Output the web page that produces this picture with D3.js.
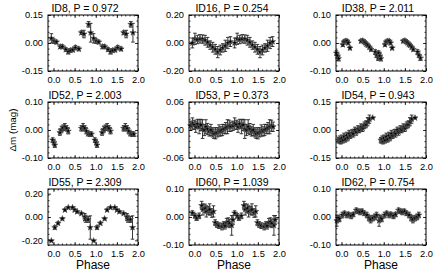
<!DOCTYPE html>
<html>
<head>
<meta charset="utf-8">
<script src="https://cdn.jsdelivr.net/npm/d3@7"></script>
<style>
  body { margin: 0; background: #fff; }
  svg { display: block; }
</style>
</head>
<body>
<div id="chart"></div>
<script>
// phase-folded light curves, first cycle only (plotted again at phase + 1)
const id8Phase = [-0.05, 0.01, 0.07, 0.16, 0.21, 0.29, 0.35, 0.40, 0.46, 0.52, 0.60, 0.66, 0.72, 0.83, 0.88];
const id8Mag   = [0.025, 0.01, 0.005, -0.02, -0.02, -0.035, -0.047, -0.04, -0.037, -0.025, -0.032, 0.055, 0.048, 0.10, 0.055];
const id8Err   = [0.025, 0.012, 0.01, 0.01, 0.01, 0.01, 0.012, 0.01, 0.01, 0.012, 0.01, 0.01, 0.02, 0.015, 0.05];

const id16Phase = [-0.05, 0.01, 0.07, 0.13, 0.19, 0.25, 0.31, 0.37, 0.43, 0.49, 0.55, 0.61, 0.67, 0.73, 0.79, 0.85];
const id16Mag   = [0.0, 0.03, 0.025, 0.03, 0.028, 0.02, 0.005, -0.015, -0.03, -0.045, -0.065, -0.05, -0.035, -0.02, 0.0, 0.01];
const id16Err   = [0.035, 0.04, 0.03, 0.03, 0.03, 0.035, 0.035, 0.03, 0.035, 0.035, 0.04, 0.035, 0.03, 0.04, 0.04, 0.035];

const id38Phase = [-0.12, -0.09, -0.07, 0.03, 0.06, 0.09, 0.13, 0.16, 0.20, 0.46, 0.50, 0.53, 0.56, 0.59, 0.62, 0.66, 0.70, 0.80, 0.83, 0.87];
const id38Mag   = [-0.036, -0.046, -0.056, -0.006, 0.004, 0.007, 0.007, 0.0, -0.018, 0.007, 0.008, 0.005, 0.001, -0.004, -0.008, -0.015, -0.023, -0.032, -0.044, -0.054];
const id38Err   = [0.008, 0.008, 0.008, 0.006, 0.006, 0.006, 0.006, 0.006, 0.006, 0.006, 0.006, 0.006, 0.006, 0.006, 0.006, 0.006, 0.006, 0.008, 0.008, 0.008];

const id52Phase = [-0.02, 0.01, 0.03, 0.15, 0.19, 0.23, 0.27, 0.31, 0.35, 0.66, 0.70, 0.74, 0.78, 0.82, 0.86, 0.90];
const id52Mag   = [-0.036, -0.045, -0.054, -0.009, 0.002, 0.008, 0.011, 0.006, -0.004, 0.006, 0.011, 0.006, -0.004, -0.013, -0.015, -0.015];
const id52Err   = [0.008, 0.008, 0.008, 0.01, 0.012, 0.01, 0.012, 0.01, 0.01, 0.01, 0.012, 0.01, 0.01, 0.008, 0.008, 0.008];

const id53Phase = [-0.09, -0.05, -0.01, 0.03, 0.07, 0.11, 0.15, 0.19, 0.23, 0.27, 0.31, 0.35, 0.39, 0.43, 0.46, 0.50, 0.54, 0.58, 0.62, 0.66, 0.70, 0.74, 0.78, 0.82, 0.86];
const id53Mag   = [0.009, 0.014, 0.011, 0.007, 0.013, 0.007, 0.011, 0.002, 0.0, 0.007, 0.002, -0.003, 0.0, -0.005, -0.008, -0.007, -0.005, -0.001, -0.003, 0.0, 0.002, 0.004, 0.007, 0.009, 0.007];
const id53Err   = [0.01, 0.012, 0.01, 0.012, 0.01, 0.015, 0.012, 0.02, 0.012, 0.015, 0.012, 0.01, 0.012, 0.01, 0.01, 0.012, 0.01, 0.012, 0.01, 0.012, 0.01, 0.012, 0.015, 0.012, 0.01];

const id54Phase = [-0.07, -0.04, -0.02, 0.0, 0.03, 0.06, 0.09, 0.12, 0.15, 0.18, 0.21, 0.25, 0.28, 0.32, 0.35, 0.39, 0.42, 0.46, 0.50, 0.54, 0.58, 0.62, 0.66, 0.74];
const id54Mag   = [-0.055, -0.05, -0.06, -0.045, -0.055, -0.035, -0.05, -0.03, -0.04, -0.02, -0.03, -0.015, -0.02, 0.0, -0.01, 0.005, 0.0, 0.015, 0.01, 0.025, 0.03, 0.045, 0.058, 0.065];
const id54Err   = [0.015, 0.018, 0.015, 0.018, 0.015, 0.018, 0.015, 0.018, 0.018, 0.018, 0.015, 0.018, 0.018, 0.015, 0.018, 0.018, 0.015, 0.018, 0.018, 0.018, 0.018, 0.022, 0.022, 0.004];

const id55Phase = [-0.05, 0.03, 0.11, 0.21, 0.27, 0.35, 0.45, 0.50, 0.56, 0.66, 0.74, 0.76, 0.82, 0.87];
const id55Mag   = [-0.204, -0.09, -0.054, -0.015, 0.06, 0.081, 0.081, 0.06, 0.045, 0.03, 0.0, -0.015, -0.021, -0.09];
const id55Err   = [0.005, 0.015, 0.012, 0.01, 0.01, 0.01, 0.008, 0.01, 0.01, 0.01, 0.03, 0.03, 0.025, 0.1];

const id60Phase = [-0.05, 0.01, 0.05, 0.11, 0.17, 0.20, 0.25, 0.28, 0.33, 0.36, 0.41, 0.45, 0.49, 0.53, 0.58, 0.65, 0.69, 0.72, 0.76, 0.80, 0.83, 0.88, 0.91];
const id60Mag   = [0.014, 0.004, -0.004, 0.004, 0.041, 0.027, 0.031, 0.02, 0.023, 0.027, 0.014, 0.02, -0.02, -0.027, -0.031, -0.034, -0.027, -0.031, -0.02, -0.018, -0.023, -0.03, -0.01];
const id60Err   = [0.008, 0.008, 0.008, 0.01, 0.015, 0.02, 0.015, 0.02, 0.015, 0.02, 0.015, 0.02, 0.01, 0.01, 0.01, 0.012, 0.01, 0.012, 0.015, 0.015, 0.015, 0.035, 0.015];

const id62Phase = [-0.11, -0.08, -0.05, 0.02, 0.07, 0.13, 0.17, 0.23, 0.28, 0.35, 0.39, 0.44, 0.49, 0.54, 0.60, 0.65, 0.69, 0.74, 0.79, 0.83];
const id62Mag   = [-0.013, -0.004, -0.007, 0.007, 0.013, 0.007, 0.009, 0.004, 0.009, 0.024, 0.02, 0.018, 0.02, 0.013, 0.007, -0.004, -0.009, -0.004, 0.0, 0.007];
const id62Err   = [0.02, 0.01, 0.01, 0.01, 0.008, 0.01, 0.008, 0.01, 0.008, 0.008, 0.008, 0.01, 0.008, 0.008, 0.01, 0.01, 0.012, 0.01, 0.01, 0.01];

const titles = ["ID8, P = 0.972", "ID16, P = 0.254", "ID38, P = 2.011",
                "ID52, P = 2.003", "ID53, P = 0.373", "ID54, P = 0.943",
                "ID55, P = 2.309", "ID60, P = 1.039", "ID62, P = 0.754"];
const yLimits = [0.15, 0.20, 0.10, 0.10, 0.06, 0.15, 0.24, 0.10, 0.10];
const yTickLabels = [[-0.15, 0, 0.15], [-0.20, 0, 0.20], [-0.10, 0, 0.10],
                     [-0.10, 0, 0.10], [-0.06, 0, 0.06], [-0.15, 0, 0.15],
                     [-0.20, 0, 0.20], [-0.10, 0, 0.10], [-0.10, 0, 0.10]];
const xTickLabels = [0.0, 0.5, 1.0, 1.5, 2.0];

const series = [
  [id8Phase, id8Mag, id8Err], [id16Phase, id16Mag, id16Err], [id38Phase, id38Mag, id38Err],
  [id52Phase, id52Mag, id52Err], [id53Phase, id53Mag, id53Err], [id54Phase, id54Mag, id54Err],
  [id55Phase, id55Mag, id55Err], [id60Phase, id60Mag, id60Err], [id62Phase, id62Mag, id62Err]
];

const width = 436, height = 273;
const colLeft = [48, 189, 336];
const titleShift = [-8, -2, -3];
const rowTop = [15, 102, 189];
const boxW = 90, boxH = 56;
const font = "'Liberation Sans', Arial, Helvetica, sans-serif";

const svg = d3.select("#chart").append("svg")
  .attr("width", width)
  .attr("height", height)
  .style("font-family", font);

series.forEach((s, i) => {
  const col = i % 3, row = Math.floor(i / 3);
  const [phase, mag, err] = s;
  const lim = yLimits[i];

  const x = d3.scaleLinear().domain([-0.13, 2.0]).range([0, boxW]);
  const y = d3.scaleLinear().domain([-lim, lim]).range([boxH, 0]);

  const g = svg.append("g")
    .attr("transform", `translate(${colLeft[col]},${rowTop[row]})`);

  // two cycles of the same folded points
  const pts = [];
  [0, 1].forEach(c => phase.forEach((p, k) => pts.push({ p: p + c, m: mag[k], e: err[k] })));

  const marks = g.append("g").attr("stroke", "#222").attr("stroke-width", 0.9);
  marks.selectAll("line.bar").data(pts).join("line")
    .attr("class", "bar")
    .attr("x1", d => x(d.p)).attr("x2", d => x(d.p))
    .attr("y1", d => y(d.m - d.e)).attr("y2", d => y(d.m + d.e));
  marks.selectAll("line.capHi").data(pts).join("line")
    .attr("class", "capHi")
    .attr("x1", d => x(d.p) - 1.8).attr("x2", d => x(d.p) + 1.8)
    .attr("y1", d => y(d.m + d.e)).attr("y2", d => y(d.m + d.e));
  marks.selectAll("line.capLo").data(pts).join("line")
    .attr("class", "capLo")
    .attr("x1", d => x(d.p) - 1.8).attr("x2", d => x(d.p) + 1.8)
    .attr("y1", d => y(d.m - d.e)).attr("y2", d => y(d.m - d.e));

  g.append("g").selectAll("path").data(pts).join("path")
    .attr("transform", d => `translate(${x(d.p)},${y(d.m)})`)
    .attr("d", d3.symbol(d3.symbolStar, 11))
    .attr("fill", "#000")
    .attr("stroke", "#555")
    .attr("stroke-width", 0.7);

  // box axes, ticks pointing inward
  const xMinor = d3.range(0, 2.001, 0.1);
  const yMinor = d3.range(-lim, lim + 1e-9, lim / 5);

  const axes = [
    g.append("g").attr("transform", `translate(0,${boxH})`)
      .call(d3.axisBottom(x).tickValues(xTickLabels).tickSize(-3).tickPadding(5).tickFormat(d => d.toFixed(1))),
    g.append("g").attr("transform", `translate(0,${boxH})`)
      .call(d3.axisBottom(x).tickValues(xMinor).tickSize(-1.5).tickFormat("")),
    g.append("g")
      .call(d3.axisTop(x).tickValues(xTickLabels).tickSize(-3).tickFormat("")),
    g.append("g")
      .call(d3.axisTop(x).tickValues(xMinor).tickSize(-1.5).tickFormat("")),
    g.append("g")
      .call(d3.axisLeft(y).tickValues(yTickLabels[i]).tickSize(-3).tickPadding(5).tickFormat(d => d.toFixed(2))),
    g.append("g")
      .call(d3.axisLeft(y).tickValues(yMinor).tickSize(-1.5).tickFormat("")),
    g.append("g").attr("transform", `translate(${boxW},0)`)
      .call(d3.axisRight(y).tickValues(yTickLabels[i]).tickSize(-3).tickFormat("")),
    g.append("g").attr("transform", `translate(${boxW},0)`)
      .call(d3.axisRight(y).tickValues(yMinor).tickSize(-1.5).tickFormat(""))
  ];
  axes.forEach(a => {
    a.select(".domain").remove();
    a.selectAll("line").attr("stroke", "#000").attr("stroke-width", 0.8);
    a.selectAll("text").attr("fill", "#000").style("font-family", font).style("font-size", "9.3px");
  });

  g.append("rect")
    .attr("width", boxW).attr("height", boxH)
    .attr("fill", "none").attr("stroke", "#000").attr("stroke-width", 1);

  g.append("text")
    .attr("x", boxW / 2 + titleShift[col]).attr("y", -3)
    .attr("text-anchor", "middle")
    .style("font-size", "10.5px")
    .text(titles[i]);

  if (row === 2) {
    g.append("text")
      .attr("x", boxW / 2).attr("y", boxH + 24)
      .attr("text-anchor", "middle")
      .style("font-size", "12px")
      .text("Phase");
  }
});

svg.append("text")
  .attr("transform", `translate(16,${rowTop[1] + boxH / 2}) rotate(-90)`)
  .attr("text-anchor", "middle")
  .style("font-size", "9.8px")
  .text("Δm (mag)");
</script>
</body>
</html>
